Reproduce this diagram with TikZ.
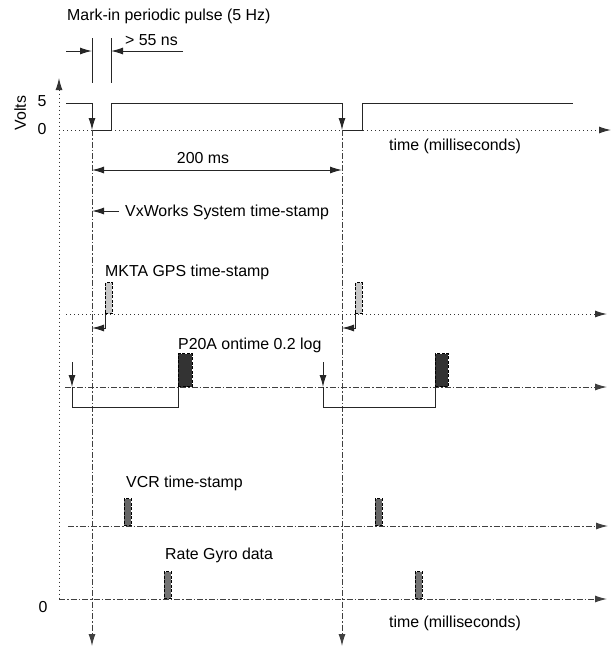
\documentclass[tikz,border=0pt]{standalone}
\usepackage{fontspec}
\setmainfont{Liberation Sans}
\usetikzlibrary{arrows.meta}
\tikzset{
  sig/.style={line width=1pt, black!85},
  dotline/.style={line width=1pt, dash pattern=on 1pt off 3pt, black!80},
  ddline/.style={line width=1pt, dash pattern=on 6pt off 2pt on 1.5pt off 2pt, black!75},
  tipend/.style={-{Latex[length=12pt,width=7pt]}},
  tipstart/.style={{Latex[length=12pt,width=7pt]}-},
  tipboth/.style={{Latex[length=12pt,width=7pt]}-{Latex[length=12pt,width=7pt]}},
  lbl/.style={font=\fontsize{15.9}{18}\selectfont, inner sep=0pt, anchor=base west},
  bar/.style={draw=black, dash pattern=on 3pt off 1.5pt, line width=0.8pt, minimum width=7pt, inner sep=0pt, anchor=south west},
}
\begin{document}
\begin{tikzpicture}[x=1pt,y=-1pt]
\useasboundingbox (0,0) rectangle (612,649);

% labels
\node[lbl] (title) at (67,20) {Mark-in periodic pulse (5 Hz)};
\node[lbl] (ns) at (125,45) {> 55 ns};
\node[lbl, anchor=base, rotate=90] (volts) at (26,113) {Volts};
\node[lbl, anchor=center] (five) at (42,101) {5};
\node[lbl, anchor=center] (zero) at (42,129) {0};
\node[lbl] (time1) at (389,150) {time (milliseconds)};
\node[lbl, anchor=center] (ms) at (203,158) {200 ms};
\node[lbl] (vx) at (125,216) {VxWorks System time-stamp};
\node[lbl] (mkta) at (105,276) {MKTA GPS time-stamp};
\node[lbl] (p20) at (178,349) {P20A ontime 0.2 log};
\node[lbl] (vcr) at (126,487) {VCR time-stamp};
\node[lbl] (gyro) at (165,559) {Rate Gyro data};
\node[lbl, anchor=center] (zerob) at (43,607) {0};
\node[lbl] (time2) at (389,627) {time (milliseconds)};

% pulse-width markers
\coordinate (m1t) at (92,38);  \coordinate (m1b) at (92,83);
\coordinate (m2t) at (111,38); \coordinate (m2b) at (111,83);
\draw[sig] (m1t) -- (m1b);
\draw[sig] (m2t) -- (m2b);
\coordinate (aL) at (66,51); \coordinate (aR) at (183,51);
\draw[sig, tipend] (aL) -- (aL -| m1t);
\draw[sig, tipend] (aR) -- (aR -| m2t);

% volts axis
\coordinate (vtop) at (59,78); \coordinate (vbot) at (59,599);
\draw[dotline, tipstart] (vtop) -- (vbot);

% time axis (top)
\coordinate (t0) at (59,130); \coordinate (t1) at (611,130);
\draw[dotline, tipend] (t0) -- (t1);

% pulse signal
\coordinate (p0) at (66,103);
\coordinate (p1) at (92,103);  \coordinate (p2) at (92,130);
\coordinate (p3) at (111,130); \coordinate (p4) at (111,103);
\coordinate (p5) at (342,103); \coordinate (p6) at (342,130);
\coordinate (p7) at (362,130); \coordinate (p8) at (362,103);
\coordinate (p9) at (573,103);
\draw[sig] (p0) -- (p1);
\draw[sig, tipend] (p1) -- (p2);
\draw[sig] (p2) -- (p3) -- (p4) -- (p5);
\draw[sig, tipend] (p5) -- (p6);
\draw[sig] (p6) -- (p7) -- (p8) -- (p9);

% vertical period lines
\coordinate (v1b) at (92,646); \coordinate (v2b) at (342,646);
\draw[ddline, tipend] (p2) -- (v1b);
\draw[ddline, tipend] (p6) -- (v2b);

% 200 ms
\coordinate (d1) at (92,170); \coordinate (d2) at (342,170);
\draw[sig, tipboth] (d1) -- (d2);

% VxWorks arrow
\coordinate (vxa) at (119,211); \coordinate (vxb) at (92,211);
\draw[sig, tipend] (vxa) -- (vxb);

% MKTA line
\coordinate (k0) at (66,314); \coordinate (k1) at (607,314);
\draw[dotline, tipend] (k0) -- (k1);
\node[bar, fill=black!22, minimum height=31pt] (kb1) at (105,314) {};
\node[bar, fill=black!22, minimum height=31pt] (kb2) at (355,314) {};
\coordinate (kc1) at (105,328); \coordinate (kd1) at (92,328);
\coordinate (kc2) at (355,328); \coordinate (kd2) at (342,328);
\draw[sig, tipend] (kb1.south west) -- (kc1) -- (kd1);
\draw[sig, tipend] (kb2.south west) -- (kc2) -- (kd2);

% P20A line
\coordinate (q0) at (65,387); \coordinate (q1) at (607,387);
\draw[ddline, tipend] (q0) -- (q1);
\node[bar, fill=black!80, minimum width=14pt, minimum height=33pt] (qb1) at (178,387) {};
\node[bar, fill=black!80, minimum width=13pt, minimum height=33pt] (qb2) at (435,387) {};
\coordinate (qa1) at (72,362); \coordinate (qs1) at (72,387); \coordinate (ql1) at (72,407); \coordinate (qr1) at (178,407);
\coordinate (qa2) at (323,362); \coordinate (qs2) at (323,387); \coordinate (ql2) at (323,407); \coordinate (qr2) at (435,407);
\draw[sig, tipend] (qa1) -- (qs1);
\draw[sig] (qs1) -- (ql1) -- (qr1) -- (qb1.south west);
\draw[sig, tipend] (qa2) -- (qs2);
\draw[sig] (qs2) -- (ql2) -- (qr2) -- (qb2.south west);

% VCR line
\coordinate (c0) at (68,526); \coordinate (c1) at (608,526);
\draw[ddline, tipend] (c0) -- (c1);
\node[bar, fill=black!60, minimum height=27pt] (cb1) at (124,526) {};
\node[bar, fill=black!60, minimum height=27pt] (cb2) at (375,526) {};

% Rate gyro line
\coordinate (g0) at (59,599); \coordinate (g1) at (607,599);
\draw[ddline, tipend] (g0) -- (g1);
\node[bar, fill=black!55, minimum height=27pt] (gb1) at (164,599) {};
\node[bar, fill=black!55, minimum height=27pt] (gb2) at (415,599) {};
\end{tikzpicture}
\end{document}
